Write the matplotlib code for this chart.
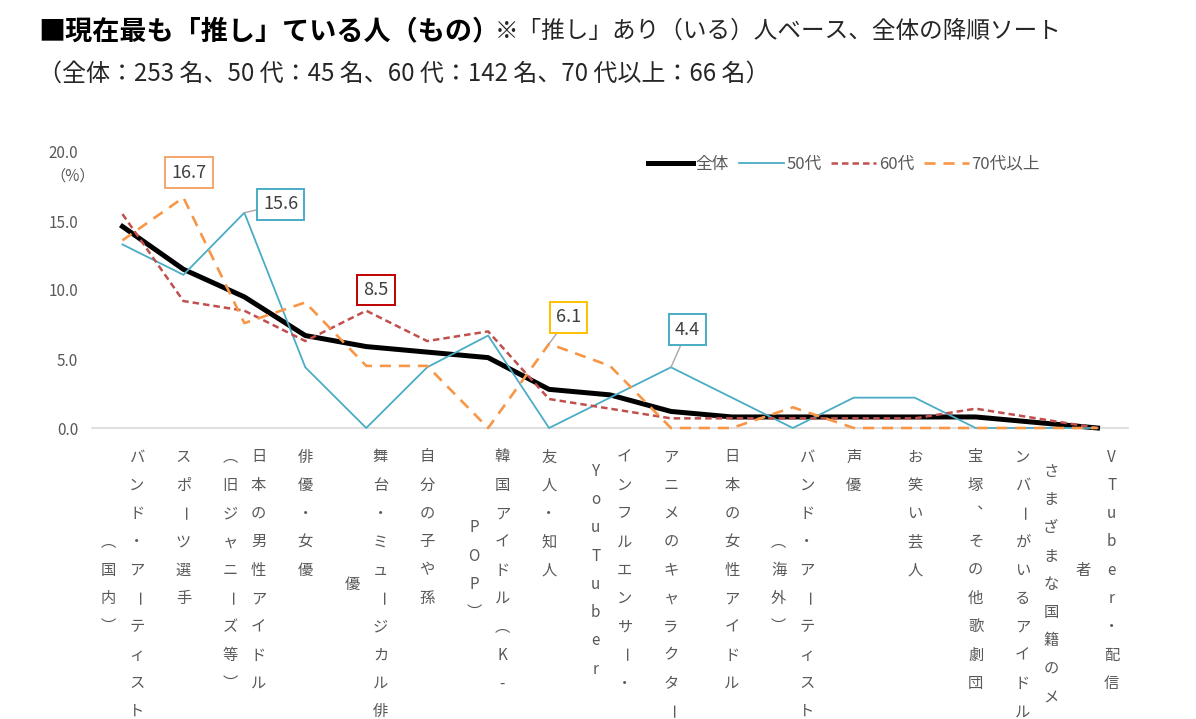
import matplotlib.pyplot as plt

plt.rcParams['font.family'] = ['Noto Sans CJK JP', 'DejaVu Sans']

categories = [
    'バンド・アーティスト\n（国内）',
    'スポーツ選手',
    '日本の男性アイドル\n（旧ジャニーズ等）',
    '俳優・女優',
    '舞台・ミュージカル俳\n優',
    '自分の子や孫',
    '韓国アイドル（K-\nPOP）',
    '友人・知人',
    'インフルエンサー・\nYouTuber',
    'アニメのキャラクター',
    '日本の女性アイドル',
    'バンド・アーティスト\n（海外）',
    '声優',
    'お笑い芸人',
    '宝塚、その他歌劇団',
    'さまざまな国籍のメ\nンバーがいるアイドル',
    'VTuber・配信\n者',
]
total = [14.6, 11.5, 9.5, 6.7, 5.9, 5.5, 5.1, 2.8, 2.4, 1.2, 0.8, 0.8, 0.8, 0.8, 0.8, 0.4, 0.0]
age50 = [13.3, 11.1, 15.6, 4.4, 0.0, 4.4, 6.7, 0.0, 2.2, 4.4, 2.2, 0.0, 2.2, 2.2, 0.0, 0.0, 0.0]
age60 = [15.5, 9.2, 8.5, 6.3, 8.5, 6.3, 7.0, 2.1, 1.4, 0.7, 0.7, 0.7, 0.7, 0.7, 1.4, 0.7, 0.0]
age70 = [13.6, 16.7, 7.6, 9.1, 4.5, 4.5, 0.0, 6.1, 4.5, 0.0, 0.0, 1.5, 0.0, 0.0, 0.0, 0.0, 0.0]
series_names = ['全体', '50代', '60代', '70代以上']

W, H = 1196, 719
fig = plt.figure(figsize=(W / 100, H / 100), dpi=100)
ax = fig.add_axes([92 / W, 1 - 428 / H, (1128 - 92) / W, (428 - 152) / H])

x = range(len(categories))
gray = '#595959'
ax.plot(x, total, color='black', lw=3.6, label=series_names[0], clip_on=False,
        solid_joinstyle='round', zorder=3)
ax.plot(x, age50, color='#4bacc6', lw=1.3, label=series_names[1], clip_on=False, zorder=4)
ax.plot(x, age60, color='#c0504d', lw=1.8, dashes=(2.6, 1.6), label=series_names[2],
        clip_on=False, zorder=5)
ax.plot(x, age70, color='#f79646', lw=1.9, dashes=(4.2, 3.0), label=series_names[3],
        clip_on=False, zorder=6)

ax.set_xlim(-0.5, len(categories) - 0.5)
ax.set_ylim(0, 20)
ax.set_yticks([0, 5, 10, 15, 20])
ax.set_yticklabels(['{:.1f}'.format(v) for v in [0, 5, 10, 15, 20]])
ax.tick_params(axis='y', length=0, pad=10, labelsize=11, labelcolor=gray)
ax.set_xticks([])
for s in ['top', 'right', 'left']:
    ax.spines[s].set_visible(False)
ax.spines['bottom'].set_color('#d9d9d9')
ax.spines['bottom'].set_linewidth(1.2)
fig.text(73 / W, 1 - 176 / H, '（%）', ha='center', va='center', fontsize=11, color=gray)

leg = ax.legend(loc='center', bbox_to_anchor=((844 - 92) / 1036, (428 - 164) / 276), ncol=4,
                frameon=False, fontsize=12, handlelength=2.7, handletextpad=0.15,
                columnspacing=0.6, labelcolor=gray)

# callout labels
def callout(vals, i, color, dx, dy, leader):
    ax.annotate('{:.1f}'.format(vals[i]), xy=(i, vals[i]), xytext=(dx, dy),
                textcoords='offset points', ha='center', va='center', fontsize=13,
                color='#404040', zorder=10,
                bbox=dict(boxstyle='square,pad=0.35', fc='white', ec=color, lw=1.4),
                arrowprops=dict(arrowstyle='-', color='#a6a6a6', lw=1,
                                shrinkA=0, shrinkB=0) if leader else None)

callout(age70, 1, '#f4a56c', 4, 18, False)
callout(age50, 2, '#4bacc6', 26, 6, True)
callout(age60, 4, '#c00000', 7, 15, False)
callout(age70, 7, '#ffc000', 14, 19, True)
callout(age50, 9, '#4bacc6', 12, 27, True)

# vertical (tategaki) category labels
vert_forms = {'（': '\ufe35', '）': '\ufe36', '、': '\ufe11'}
pitch = 28.3
col_gap = 28.5
top_y = 457
for i, lab in enumerate(categories):
    cols = lab.split('\n')
    xc = ax.transData.transform((i, 0))[0]
    n = len(cols)
    longest = max(len(c) for c in cols)
    for k, col in enumerate(cols):
        cx = xc + (n - 1) / 2 * col_gap - k * col_gap
        y0 = top_y + (longest - len(col)) / 2 * pitch
        for j, ch in enumerate(col):
            rot = -90 if ch == 'ー' else 0
            fig.text(cx / W, 1 - (y0 + j * pitch) / H, vert_forms.get(ch, ch),
                     ha='center', va='center', rotation=rot, fontsize=11, color=gray)

fig.text(38 / W, 1 - 31 / H, '■現在最も「推し」ている人（もの）', ha='left', va='center',
         fontsize=19.5, fontweight='bold', color='black')
fig.text(495 / W, 1 - 31 / H, '※「推し」あり（いる）人ベース、全体の降順ソート', ha='left',
         va='center', fontsize=17, color='#262626')
fig.text(38 / W, 1 - 74 / H, '（全体：253 名、50 代：45 名、60 代：142 名、70 代以上：66 名）',
         ha='left', va='center', fontsize=17.3, color='#262626')

fig.savefig('out.png', dpi=100, facecolor='white')
